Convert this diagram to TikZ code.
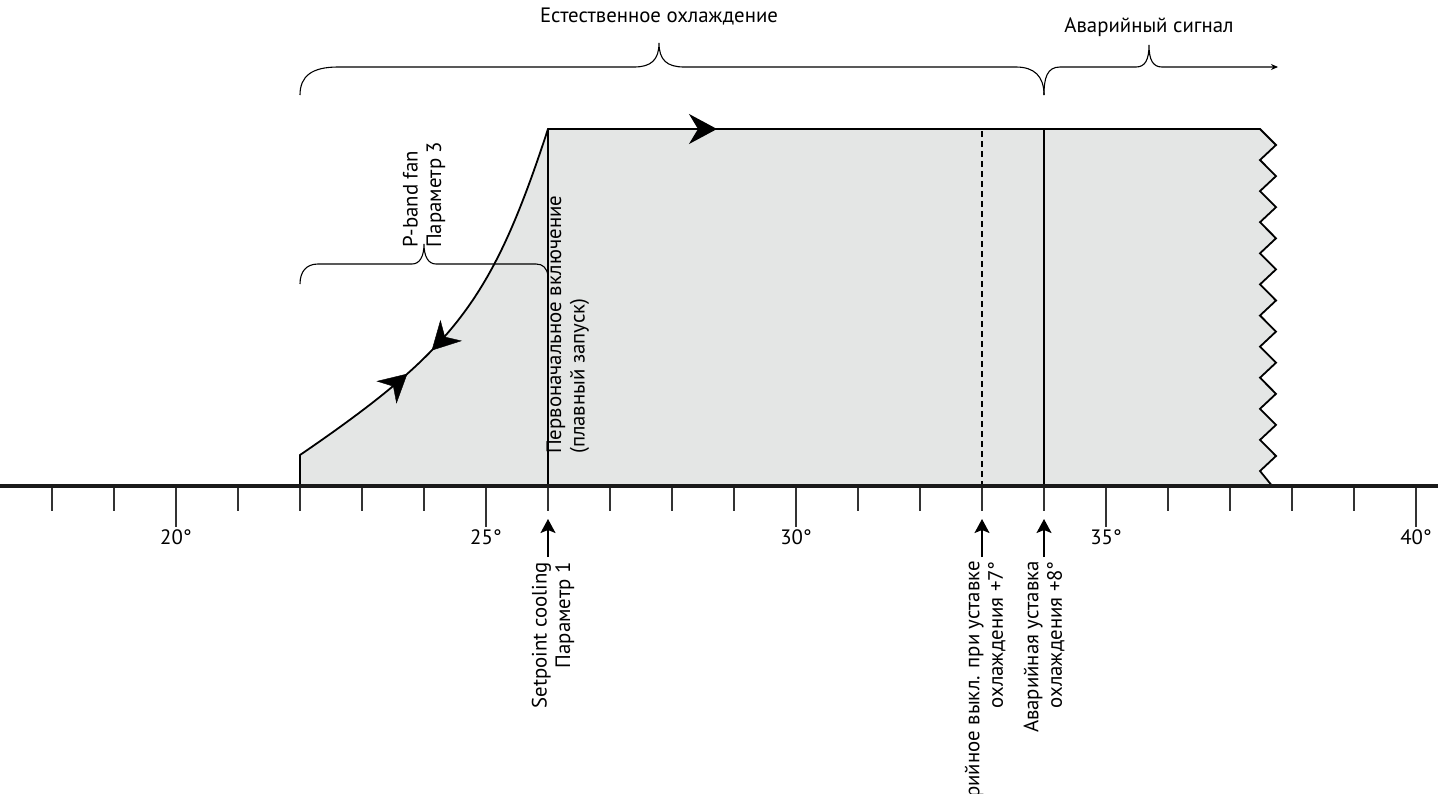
\documentclass[tikz,border=0pt]{standalone}
\usepackage{fontspec}
\setmainfont{PT Sans}
\usetikzlibrary{arrows.meta,decorations.markings}
\definecolor{fillgray}{HTML}{E4E6E5}
\definecolor{axisblack}{HTML}{1A1A1A}
\definecolor{tickgray}{HTML}{333333}
\begin{document}
\begin{tikzpicture}[x=1pt,y=-1pt,
  txt/.style={font=\fontsize{20.8}{23.5}\selectfont, inner sep=0pt, text=black},
  vtxt/.style={txt, rotate=90},
  outline/.style={line width=1.8pt, line join=miter, draw=black},
  bracestyle/.style={line width=1.1pt, draw=black},
  tickstyle/.style={line width=1.1pt, draw=tickgray},
  ptr/.style={line width=1.5pt, draw=black, -{Stealth[length=14pt,width=15pt,inset=3pt]}},
]
\useasboundingbox (0,0) rectangle (1438,793);

% key coordinates
\coordinate (S0) at (300,487);
\coordinate (S1) at (300,455);
\coordinate (Top) at (548,129);
\coordinate (TopArrow) at (717,129);
\coordinate (TR) at (1260,129);
\coordinate (ZB) at (1273,487);
\coordinate (SetB) at (548,487);
\coordinate (DashT) at (982,129);
\coordinate (DashB) at (982,487);
\coordinate (AlT) at (1044,129);
\coordinate (AlB) at (1044,487);

% filled region
\fill[fillgray] (S0) -- (S1) .. controls (455,349) and (492,300) .. (Top) -- (TR)
  \foreach \k in {0,...,10} { -- (1276,{145+31.1*\k}) -- (1260,{160+31.1*\k}) } -- (ZB) -- cycle;

% vertical lines
\draw[line width=1.6pt] (SetB) -- (Top);
\draw[line width=1.4pt, dash pattern=on 6pt off 4pt] (DashB) -- (DashT);
\draw[line width=1.6pt] (AlB) -- (AlT);

% outline
\draw[outline] (S0) -- (S1) .. controls (455,349) and (492,300) .. (Top) -- (TR)
  \foreach \k in {0,...,10} { -- (1276,{145+31.1*\k}) -- (1260,{160+31.1*\k}) } -- (ZB);

% arrow on top edge
\draw[outline, -{Stealth[length=28pt,width=30pt,inset=9pt]}] (Top) -- (TopArrow);

% arrows on the curve
\path[decorate, decoration={markings,
   mark=at position 0.32 with {\arrow{Stealth[length=28pt,width=30pt,inset=9pt]}},
   mark=at position 0.40 with {\arrowreversed{Stealth[length=28pt,width=30pt,inset=9pt]}}}]
  (S1) .. controls (455,349) and (492,300) .. (Top);

% axis
\draw[line width=4.5pt, draw=axisblack] (0,486) -- (1438,486);
\foreach \t in {18,...,40} {
  \pgfmathtruncatemacro{\r}{mod(\t,5)}
  \ifnum\r=0
    \draw[tickstyle] ({176+62*(\t-20)},488) -- ++(0,39);
  \else
    \draw[tickstyle] ({176+62*(\t-20)},488) -- ++(0,23);
  \fi
}
\foreach \t in {20,25,30,35,40}
  \node[txt] (deg\t) at ({176+62*(\t-20)},537) {\t°};

% braces
\draw[bracestyle] (300,95) .. controls (300,76) and (312,67) .. (338,67) -- (634,67)
  .. controls (651,67) and (659,60) .. (659,43) .. controls (659,60) and (667,67) .. (684,67)
  -- (1016,67) .. controls (1034,67) and (1044,76) .. (1044,95);
\coordinate (AlSigEnd) at (1278,67);
\draw[bracestyle, -{Stealth[length=7pt,width=6pt]}] (1044,95) .. controls (1044,78) and (1047,67) .. (1060,67) -- (1136,67)
  .. controls (1145,67) and (1149,60) .. (1149,45) .. controls (1149,60) and (1153,67) .. (1162,67)
  -- (AlSigEnd);
\draw[bracestyle] (300,284) .. controls (300,272) and (306,264) .. (318,264) -- (412,264)
  .. controls (420,264) and (424,256) .. (424,244) .. controls (424,256) and (428,264) .. (436,264)
  -- (536,264) .. controls (543,264) and (547,268) .. (548,276);

% top labels
\node[txt] (natcool) at (659,17) {Естественное охлаждение};
\node[txt] (alsig) at (1149,27) {Аварийный сигнал};

% vertical labels
\node[vtxt, align=left, anchor=west] (pband) at (424,248) {P-band fan\\Параметр 3};
\node[vtxt, align=left, anchor=west] (first) at (568,454) {Первоначальное включение\\(плавный запуск)};

% bottom labels with pointers
\node[vtxt, align=right, anchor=east] (setp) at (553,562) {Setpoint cooling\\Параметр 1};
\node[vtxt, align=right, anchor=east] (aloff) at (985,561) {Аварийное выкл. при уставке\\охлаждения +7°};
\node[vtxt, align=right, anchor=east] (alset) at (1044,561) {Аварийная уставка\\охлаждения +8°};
\coordinate (p1t) at (548,519); \coordinate (p1b) at (548,557);
\coordinate (p2t) at (982,519); \coordinate (p2b) at (982,557);
\coordinate (p3t) at (1044,519); \coordinate (p3b) at (1044,557);
\draw[ptr] (p1b) -- (p1t);
\draw[ptr] (p2b) -- (p2t);
\draw[ptr] (p3b) -- (p3t);
\end{tikzpicture}
\end{document}
